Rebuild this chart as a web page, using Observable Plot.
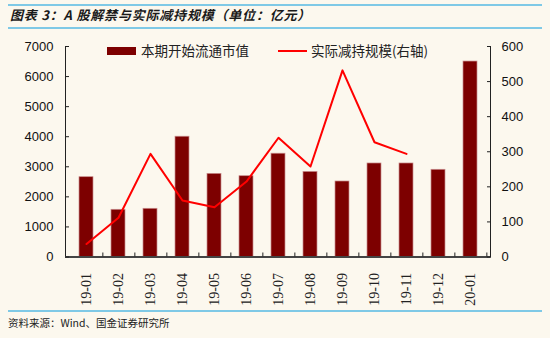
<!DOCTYPE html>
<html><head><meta charset="utf-8">
<script src="https://cdn.jsdelivr.net/npm/d3@7"></script>
<script src="https://cdn.jsdelivr.net/npm/@observablehq/plot@0.6"></script>
<style>
html,body{margin:0;padding:0;background:#fcf8ee;}
#wrap{position:relative;width:550px;height:338px;background:#fcf8ee;overflow:hidden;font-family:"Noto Sans CJK SC",sans-serif;}
.hline{position:absolute;left:8px;width:534px;height:2px;background:#7fc9e6;}
#title{position:absolute;left:10px;top:6px;font-size:13px;font-weight:bold;font-style:italic;color:#1a1a1a;line-height:18px;white-space:nowrap;letter-spacing:0.8px;}
#chart{position:absolute;left:0;top:30px;}
#legend{position:absolute;top:41px;left:0;font-size:13.5px;color:#222;line-height:18px;white-space:nowrap;}
.sw{position:absolute;}
#source{position:absolute;left:8px;top:314px;font-size:10.5px;color:#222;line-height:18px;white-space:nowrap;}
</style></head>
<body>
<div id="wrap">
  <div class="hline" style="top:4px"></div>
  <div id="title">图表 3：A 股解禁与实际减持规模（单位：亿元）</div>
  <div class="hline" style="top:27px"></div>
  <div id="chart"></div>
  <div id="legend"></div>
  <div class="hline" style="top:310px"></div>
  <div id="source">资料来源：Wind、国金证券研究所</div>
</div>
<script>
const months = ["19-01","19-02","19-03","19-04","19-05","19-06","19-07","19-08","19-09","19-10","19-11","19-12","20-01"];
const circulation = [2654, 1570, 1603, 4000, 2765, 2687, 3435, 2830, 2511, 3110, 3110, 2900, 6500];
const reduction = [37, 112, 294, 161, 142, 215, 340, 258, 532, 327, 294, null, null];
const leftTicks = [0,1000,2000,3000,4000,5000,6000,7000];
const rightTicks = [0,100,200,300,400,500,600];
const seriesNames = ["本期开始流通市值", "实际减持规模(右轴)"];

const leftMax = 7000, rightMax = 600, k = leftMax / rightMax;
const bars = months.map((m, i) => ({month: m, value: circulation[i]}));
const linePts = months.map((m, i) => ({month: m, value: reduction[i]})).filter(d => d.value != null);

const chart = Plot.plot({
  width: 550, height: 280,
  marginLeft: 65, marginRight: 60, marginTop: 16, marginBottom: 53.5,
  style: {background: "transparent", overflow: "visible"},
  x: {type: "band", domain: months, paddingInner: 0.57, paddingOuter: 0.285, label: null},
  y: {domain: [0, leftMax], label: null},
  marks: [
    Plot.barY(bars, {x: "month", y: "value", fill: "#7d0000", stroke: "#c98c8c", strokeWidth: 0.7}),
    Plot.line(linePts, {x: "month", y: d => d.value * k, stroke: "#ff0000", strokeWidth: 2}),
    Plot.frame({anchor: "left", stroke: "#222"}),
    Plot.frame({anchor: "right", stroke: "#222"}),
    Plot.ruleY([0], {stroke: "#444", strokeWidth: 2}),
    Plot.axisY({anchor: "left", ticks: leftTicks, tickFormat: d => String(d), tickSize: -4, tickPadding: 16, fontSize: 13, fontFamily: "Liberation Sans, Arial, sans-serif", fill: "#111", stroke: "#222", label: null}),
    Plot.axisY({anchor: "right", ticks: rightTicks.map(v => v * k), tickFormat: d => String(Math.round(d / k)), tickSize: -4, tickPadding: 15, fontSize: 13, fontFamily: "Liberation Sans, Arial, sans-serif", fill: "#111", stroke: "#222", label: null}),
    Plot.axisX({anchor: "bottom", tickSize: -4, dx: 16.35, text: null, stroke: "#222"}),
    Plot.axisX({anchor: "bottom", tickSize: 0, tickPadding: 16, tickRotate: -90, fontSize: 14, fontFamily: "Liberation Serif, Times New Roman, serif", fill: "#222", label: null})
  ]
});
document.getElementById("chart").appendChild(chart);

const legend = document.getElementById("legend");
legend.innerHTML =
  `<span class="sw" style="left:107px;top:5.5px;width:29px;height:8px;background:#7d0000"></span>` +
  `<span class="sw" style="left:141px;top:0">${seriesNames[0]}</span>` +
  `<span class="sw" style="left:278px;top:8.5px;width:29px;height:2px;background:#ff0000"></span>` +
  `<span class="sw" style="left:311px;top:0">${seriesNames[1]}</span>`;
</script>
</body></html>
